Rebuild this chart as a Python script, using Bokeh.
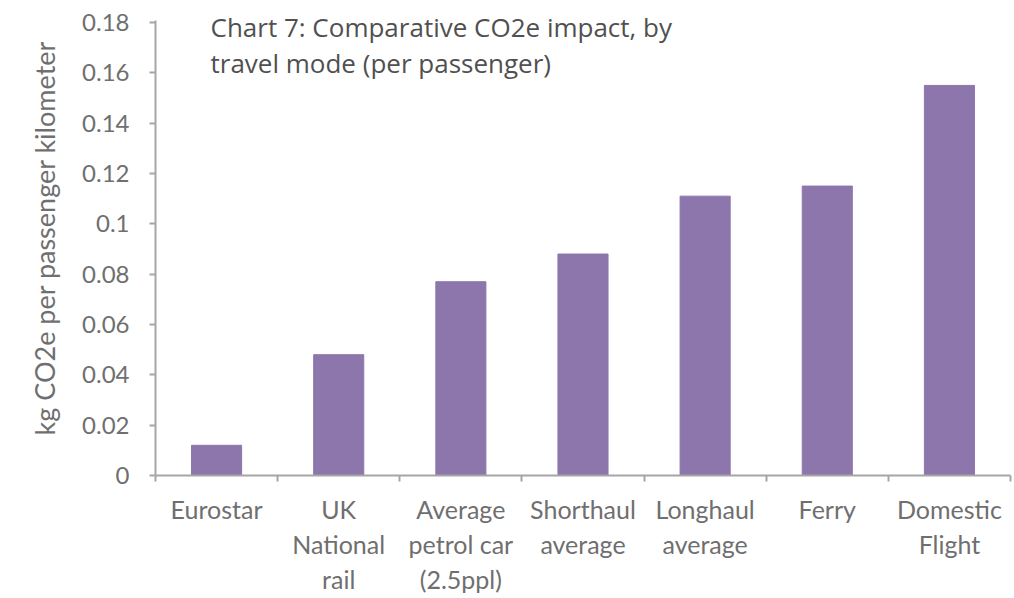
from bokeh.plotting import figure
from bokeh.models import ColumnDataSource, Range1d, FixedTicker, Label
from bokeh.embed import file_html
from bokeh.resources import INLINE

categories = ["Eurostar", "UK\nNational\nrail", "Average\npetrol car\n(2.5ppl)", "Shorthaul\naverage",
              "Longhaul\naverage", "Ferry", "Domestic\nFlight"]
values = [0.012, 0.048, 0.077, 0.088, 0.111, 0.115, 0.155]
y_ticks = [0, 0.02, 0.04, 0.06, 0.08, 0.1, 0.12, 0.14, 0.16, 0.18]
y_tick_labels = ["0", "0.02", "0.04", "0.06", "0.08", "0.1", "0.12", "0.14", "0.16", "0.18"]
title_lines = ["Chart 7: Comparative CO2e impact, by", "travel mode (per passenger)"]

xs = [i + 0.5 for i in range(len(categories))]
src = ColumnDataSource(dict(x=xs, top=values))

px_per_unit = 453 / 0.18
p = figure(width=1014, height=598, frame_width=855, frame_height=475,
           min_border_left=155, min_border_right=4, min_border_top=0, min_border_bottom=123,
           x_range=Range1d(0, len(categories)), y_range=Range1d(0, 475 / px_per_unit),
           output_backend="svg", toolbar_location=None)

p.vbar(x="x", top="top", width=0.41, bottom=0, source=src, color="#8c76ab")

p.xgrid.visible = False
p.ygrid.visible = False
p.outline_line_color = None
p.background_fill_color = "white"
p.border_fill_color = "white"

axis_color = "#a6a6a6"
label_color = "#6f6f6f"
font = "Lato"

p.xaxis.ticker = FixedTicker(ticks=xs, minor_ticks=list(range(len(categories) + 1)))
p.xaxis.major_label_overrides = {x: c for x, c in zip(xs, categories)}
p.xaxis.major_tick_line_color = None
p.xaxis.minor_tick_line_color = axis_color
p.xaxis.minor_tick_out = 6
p.xaxis.minor_tick_in = 0
p.xaxis.minor_tick_line_width = 2
p.xaxis.axis_line_color = axis_color
p.xaxis.axis_line_width = 2
p.xaxis.major_label_text_font = font
p.xaxis.major_label_text_font_size = "25px"
p.xaxis.major_label_text_line_height = 1.18
p.xaxis.major_label_text_color = label_color
p.xaxis.major_label_standoff = 12

p.yaxis.ticker = FixedTicker(ticks=y_ticks, minor_ticks=[])
p.yaxis.bounds = (0, 455 / px_per_unit)
p.yaxis.major_label_overrides = {t: l for t, l in zip(y_ticks, y_tick_labels)}
p.yaxis.axis_line_color = axis_color
p.yaxis.axis_line_width = 2
p.yaxis.major_tick_line_color = axis_color
p.yaxis.major_tick_line_width = 2
p.yaxis.major_tick_out = 6
p.yaxis.major_tick_in = 0
p.yaxis.minor_tick_line_color = None
p.yaxis.major_label_text_font = font
p.yaxis.major_label_text_font_size = "24px"
p.yaxis.major_label_text_color = label_color
p.yaxis.major_label_standoff = 20
p.yaxis.axis_label = "kg CO2e per passenger kilometer"
p.yaxis.axis_label_text_font = font
p.yaxis.axis_label_text_font_size = "27px"
p.yaxis.axis_label_text_font_style = "normal"
p.yaxis.axis_label_text_color = label_color
p.yaxis.axis_label_standoff = 18

for i, line in enumerate(title_lines):
    p.add_layout(Label(x=55, y=475 - 26 - 36 * i, x_units="screen", y_units="screen",
                       text=line, text_font="Open Sans", text_font_size="26px",
                       text_color="#505050", text_baseline="alphabetic"))

open("out.html", "w").write(file_html(p, INLINE))
